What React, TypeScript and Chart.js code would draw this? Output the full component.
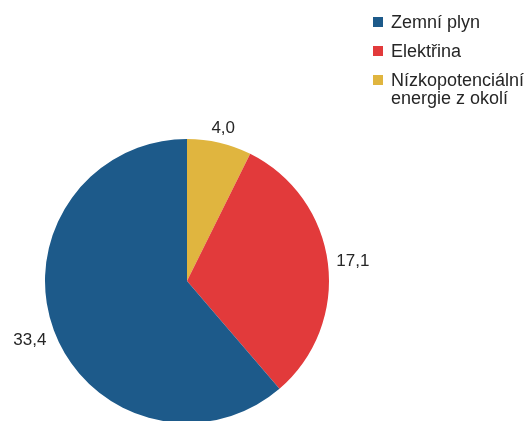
import { useEffect, useRef } from "react";
import { Chart, registerables } from "chart.js";

Chart.register(...registerables);

const categories = ["Zemní plyn", "Elektřina", "Nízkopotenciální energie z okolí"];
const values = [33.4, 17.1, 4.0];
const valueLabels = ["33,4", "17,1", "4,0"];
const colors = ["#1d5a8a", "#e23a3b", "#e0b53f"];

const FONT = '"Liberation Sans", Arial, sans-serif';

const labelPlugin = {
  id: "customLabels",
  afterDraw(chart: any) {
    const ctx = chart.ctx as CanvasRenderingContext2D;
    const meta = chart.getDatasetMeta(0);
    const order: number[] = chart.data.datasets[0].srcIndex;
    ctx.save();
    // value labels outside the slices
    ctx.font = `17px ${FONT}`;
    ctx.fillStyle = "#262626";
    ctx.textAlign = "center";
    ctx.textBaseline = "alphabetic";
    const capH = 12;
    meta.data.forEach((arc: any, i: number) => {
      const p = arc.getProps(["x", "y", "startAngle", "endAngle", "outerRadius"], true);
      const mid = (p.startAngle + p.endAngle) / 2;
      const dx = Math.cos(mid);
      const dy = Math.sin(mid);
      const text = valueLabels[order[i]];
      const w = ctx.measureText(text).width;
      const d = p.outerRadius + 8 + (w / 2) * Math.abs(dx) + (capH / 2) * Math.abs(dy);
      ctx.fillText(text, p.x + dx * d, p.y + dy * d + capH / 2);
    });
    // legend
    ctx.font = `18px ${FONT}`;
    ctx.textAlign = "left";
    const boxX = 373;
    const textX = 391;
    const maxW = 134;
    let baseline = 28;
    categories.forEach((cat, i) => {
      ctx.fillStyle = colors[i];
      ctx.fillRect(boxX, baseline - 11, 10, 10);
      ctx.fillStyle = "#262626";
      const words = cat.split(" ");
      const lines: string[] = [];
      let cur = "";
      words.forEach((wd) => {
        const test = cur ? cur + " " + wd : wd;
        if (ctx.measureText(test).width > maxW && cur) {
          lines.push(cur);
          cur = wd;
        } else cur = test;
      });
      if (cur) lines.push(cur);
      lines.forEach((ln, j) => ctx.fillText(ln, textX, baseline + j * 18));
      baseline += 29 + (lines.length - 1) * 18;
    });
    ctx.restore();
  },
};

export default function App() {
  const ref = useRef<HTMLCanvasElement | null>(null);
  useEffect(() => {
    if (!ref.current) return;
    const idx = values.map((_, i) => i).reverse();
    const chart = new Chart(ref.current, {
      type: "pie",
      data: {
        labels: idx.map((i) => categories[i]),
        datasets: [
          {
            data: idx.map((i) => values[i]),
            backgroundColor: idx.map((i) => colors[i]),
            borderWidth: 0,
            srcIndex: idx,
          } as any,
        ],
      },
      options: {
        animation: false,
        responsive: false,
        layout: { padding: { left: 45, right: 196, top: 139, bottom: 17 } },
        plugins: { legend: { display: false }, tooltip: { enabled: false } },
      },
      plugins: [labelPlugin],
    });
    return () => chart.destroy();
  }, []);
  return (
    <div
      style={{
        position: "absolute",
        left: 0,
        top: 0,
        width: 525,
        height: 421,
        overflow: "hidden",
        background: "#ffffff",
      }}
    >
      <canvas ref={ref} width={525} height={440} style={{ width: 525, height: 440, display: "block" }} />
    </div>
  );
}
